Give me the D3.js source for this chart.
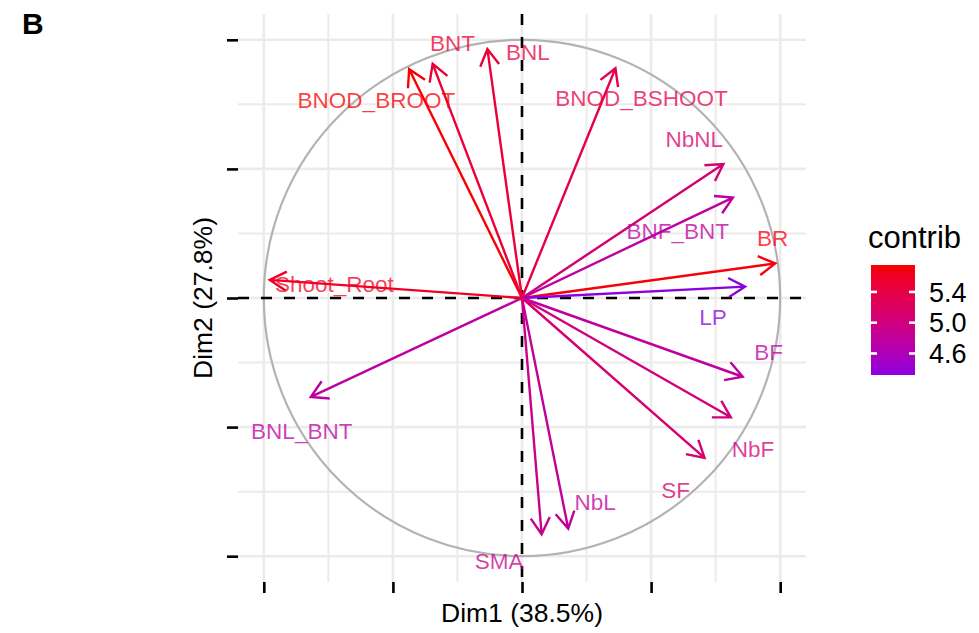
<!DOCTYPE html>
<html>
<head>
<meta charset="utf-8">
<script src="https://cdn.jsdelivr.net/npm/d3@7"></script>
<style>
body { margin: 0; background: #fff; }
text { font-family: "Liberation Sans", Arial, sans-serif; }
</style>
</head>
<body>
<script>
// variables of the correlation circle
var variables = ["BNOD_BROOT", "BNT", "BNL", "BNOD_BSHOOT", "NbNL", "BNF_BNT", "BR", "LP",
    "BF", "NbF", "SF", "NbL", "SMA", "BNL_BNT", "Shoot_Root"];
var dim1 = [-0.437, -0.346, -0.134, 0.362, 0.780, 0.817, 0.981, 0.864,
    0.855, 0.809, 0.707, 0.179, 0.076, -0.818, -0.977];
var dim2 = [0.886, 0.907, 0.964, 0.890, 0.519, 0.389, 0.134, 0.044,
    -0.305, -0.462, -0.619, -0.893, -0.915, -0.383, 0.070];
var contrib = [5.75, 5.50, 5.48, 5.38, 5.10, 4.76, 5.72, 4.32,
    4.78, 5.03, 5.12, 4.82, 4.90, 4.74, 5.62];
// repelled label anchors (data units)
var labelDim1 = [-0.564, -0.269, 0.023, 0.463, 0.667, 0.603, 0.971, 0.740,
    0.955, 0.895, 0.595, 0.283, -0.089, -0.853, -0.727];
var labelDim2 = [0.766, 0.990, 0.955, 0.775, 0.618, 0.260, 0.233, -0.074,
    -0.209, -0.583, -0.742, -0.789, -1.017, -0.516, 0.054];

var axisTicks = [-1, -0.5, 0, 0.5, 1];
var minorTicks = [-0.75, -0.25, 0.25, 0.75];
var legendTicks = [4.6, 5.0, 5.4];
var xTitle = "Dim1 (38.5%)";
var yTitle = "Dim2 (27.8%)";

var width = 979;
var height = 633;

var data = variables.map(function(v, i) {
    return { name: v, x: dim1[i], y: dim2[i], contrib: contrib[i], lx: labelDim1[i], ly: labelDim2[i] };
});

var xScale = d3.scaleLinear().domain([-1.1, 1.1]).range([238, 806]);
var yScale = d3.scaleLinear().domain([-1.1, 1.1]).range([582, 14]);

var cMin = d3.min(contrib), cMax = d3.max(contrib);
var color = d3.scaleLinear()
    .domain([cMin, cMax])
    .range(["#8B00E2", "#F80000"])
    .interpolate(d3.interpolateLab);

var svg = d3.select("body")
    .append("svg")
    .attr("width", width)
    .attr("height", height);

// grid
var grid = svg.append("g");
grid.selectAll(".minorx").data(minorTicks).enter().append("line")
    .attr("x1", function(d) { return xScale(d); })
    .attr("x2", function(d) { return xScale(d); })
    .attr("y1", yScale.range()[1]).attr("y2", yScale.range()[0])
    .attr("stroke", "#ebebeb").attr("stroke-width", 2);
grid.selectAll(".minory").data(minorTicks).enter().append("line")
    .attr("y1", function(d) { return yScale(d); })
    .attr("y2", function(d) { return yScale(d); })
    .attr("x1", xScale.range()[0]).attr("x2", xScale.range()[1])
    .attr("stroke", "#ebebeb").attr("stroke-width", 2);
grid.selectAll(".majorx").data(axisTicks).enter().append("line")
    .attr("x1", function(d) { return xScale(d); })
    .attr("x2", function(d) { return xScale(d); })
    .attr("y1", yScale.range()[1]).attr("y2", yScale.range()[0])
    .attr("stroke", "#ebebeb").attr("stroke-width", 2.6);
grid.selectAll(".majory").data(axisTicks).enter().append("line")
    .attr("y1", function(d) { return yScale(d); })
    .attr("y2", function(d) { return yScale(d); })
    .attr("x1", xScale.range()[0]).attr("x2", xScale.range()[1])
    .attr("stroke", "#ebebeb").attr("stroke-width", 2.6);

// axes (ticks only, no labels)
var xAxis = d3.axisBottom(xScale).tickValues(axisTicks).tickSize(11).tickFormat("");
var yAxis = d3.axisLeft(yScale).tickValues(axisTicks).tickSize(11).tickFormat("");
var gx = svg.append("g").attr("transform", "translate(0," + yScale.range()[0] + ")").call(xAxis);
var gy = svg.append("g").attr("transform", "translate(" + xScale.range()[0] + ",0)").call(yAxis);
[gx, gy].forEach(function(g) {
    g.select(".domain").remove();
    g.selectAll(".tick line").attr("stroke", "#000").attr("stroke-width", 2.6);
});

// unit circle
svg.append("circle")
    .attr("cx", xScale(0))
    .attr("cy", yScale(0))
    .attr("r", xScale(1) - xScale(0))
    .attr("fill", "none")
    .attr("stroke", "#b3b3b3")
    .attr("stroke-width", 2.2);

// dashed zero lines
svg.append("line")
    .attr("x1", xScale.range()[0]).attr("x2", xScale.range()[1])
    .attr("y1", yScale(0)).attr("y2", yScale(0))
    .attr("stroke", "#000").attr("stroke-width", 2.6).attr("stroke-dasharray", "11,12");
svg.append("line")
    .attr("x1", xScale(0)).attr("x2", xScale(0))
    .attr("y1", yScale.range()[1]).attr("y2", yScale.range()[0])
    .attr("stroke", "#000").attr("stroke-width", 2.6).attr("stroke-dasharray", "11,12");

// arrows
var headLen = 19, headAngle = Math.PI / 6;
function arrowPath(d) {
    var x0 = xScale(0), y0 = yScale(0);
    var x1 = xScale(d.x), y1 = yScale(d.y);
    var a = Math.atan2(y1 - y0, x1 - x0);
    var p = "M" + x0 + "," + y0 + "L" + x1 + "," + y1;
    p += "M" + (x1 - headLen * Math.cos(a - headAngle)) + "," + (y1 - headLen * Math.sin(a - headAngle));
    p += "L" + x1 + "," + y1;
    p += "L" + (x1 - headLen * Math.cos(a + headAngle)) + "," + (y1 - headLen * Math.sin(a + headAngle));
    return p;
}
svg.append("g")
    .selectAll("path")
    .data(data)
    .enter()
    .append("path")
    .attr("d", arrowPath)
    .attr("fill", "none")
    .attr("stroke", function(d) { return color(d.contrib); })
    .attr("stroke-width", 2.4);

// variable labels
svg.append("g")
    .selectAll("text")
    .data(data)
    .enter()
    .append("text")
    .attr("x", function(d) { return xScale(d.lx); })
    .attr("y", function(d) { return yScale(d.ly); })
    .attr("dy", "0.36em")
    .attr("text-anchor", "middle")
    .attr("font-size", 22.5)
    .attr("fill", function(d) { return color(d.contrib); })
    .attr("fill-opacity", 0.75)
    .text(function(d) { return d.name; });

// axis titles
svg.append("text")
    .attr("x", (xScale.range()[0] + xScale.range()[1]) / 2)
    .attr("y", 622)
    .attr("text-anchor", "middle")
    .attr("font-size", 26.5)
    .attr("fill", "#000")
    .text(xTitle);
svg.append("text")
    .attr("transform", "translate(212," + (yScale.range()[0] + yScale.range()[1]) / 2 + ") rotate(-90)")
    .attr("text-anchor", "middle")
    .attr("font-size", 26.5)
    .attr("fill", "#000")
    .text(yTitle);

// panel tag
svg.append("text")
    .attr("x", 22)
    .attr("y", 34)
    .attr("font-size", 30)
    .attr("font-weight", "bold")
    .attr("fill", "#000")
    .text("B");

// legend colour bar
var legendScale = d3.scaleLinear().domain([cMin, cMax]).range([375, 265]);
var barX = 871, barW = 44;
var grad = svg.append("defs").append("linearGradient")
    .attr("id", "cbar")
    .attr("x1", 0).attr("y1", 1).attr("x2", 0).attr("y2", 0);
d3.range(0, 1.0001, 0.1).forEach(function(t) {
    grad.append("stop")
        .attr("offset", t)
        .attr("stop-color", color(cMin + t * (cMax - cMin)));
});
svg.append("rect")
    .attr("x", barX)
    .attr("y", legendScale(cMax))
    .attr("width", barW)
    .attr("height", legendScale(cMin) - legendScale(cMax))
    .attr("fill", "url(#cbar)");
var lt = svg.append("g").selectAll("g").data(legendTicks).enter().append("g");
lt.append("line")
    .attr("x1", barX).attr("x2", barX + 6)
    .attr("y1", function(d) { return legendScale(d); })
    .attr("y2", function(d) { return legendScale(d); })
    .attr("stroke", "#fff").attr("stroke-width", 2.6);
lt.append("line")
    .attr("x1", barX + barW - 6).attr("x2", barX + barW)
    .attr("y1", function(d) { return legendScale(d); })
    .attr("y2", function(d) { return legendScale(d); })
    .attr("stroke", "#fff").attr("stroke-width", 2.6);
lt.append("text")
    .attr("x", 929)
    .attr("y", function(d) { return legendScale(d); })
    .attr("dy", "0.36em")
    .attr("font-size", 27)
    .attr("fill", "#000")
    .text(function(d) { return d.toFixed(1); });
svg.append("text")
    .attr("x", 868)
    .attr("y", 248)
    .attr("font-size", 31)
    .attr("fill", "#000")
    .text("contrib");
</script>
</body>
</html>
